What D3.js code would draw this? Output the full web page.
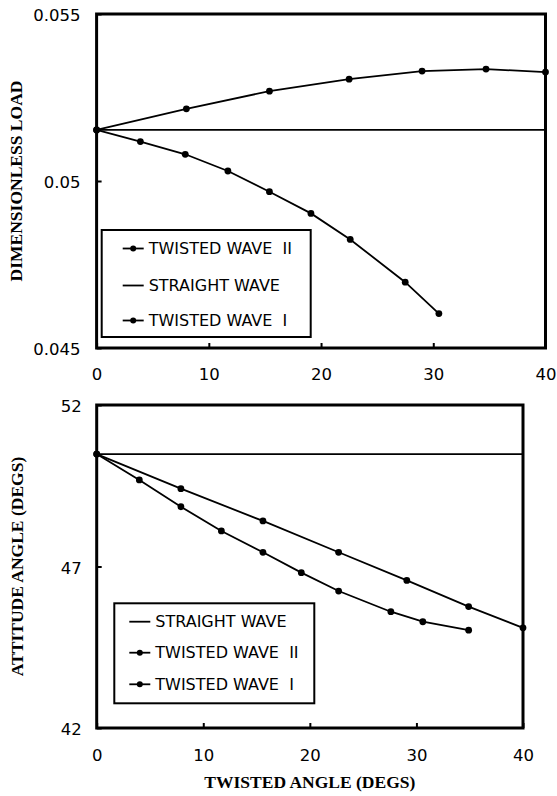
<!DOCTYPE html>
<html>
<head>
<meta charset="utf-8">
<script src="https://cdn.jsdelivr.net/npm/d3@7"></script>
<style>
  body { margin: 0; background: #fff; }
  svg { display: block; }
  .tick text { font-family: "DejaVu Sans", sans-serif; font-size: 16.5px; fill: #000; }
  .axis-title { font-family: "Liberation Serif", "Times New Roman", serif; font-weight: bold; font-size: 17.5px; }
  .legend text { font-family: "DejaVu Sans", sans-serif; font-size: 16px; white-space: pre; }
</style>
</head>
<body>
<div id="chart"></div>
<script>
// Daten
const X_TICKS = [0, 10, 20, 30, 40];

// Oberes Diagramm: dimensionslose Last
const LOAD_TICKS = [0.045, 0.05, 0.055];
const LOAD_STRAIGHT = 0.05153;
const LOAD_II_X = [0, 8, 15.4, 22.5, 29, 34.7, 40];
const LOAD_II_Y = [0.05153, 0.05216, 0.05269, 0.05305, 0.05329, 0.05335, 0.05326];
const LOAD_I_X = [0, 3.9, 7.9, 11.7, 15.4, 19.1, 22.6, 27.5, 30.5];
const LOAD_I_Y = [0.05153, 0.05118, 0.0508, 0.0503, 0.04968, 0.04903, 0.04825, 0.04697, 0.04603];
const LOAD_LEGEND = ["TWISTED WAVE  II", "STRAIGHT WAVE", "TWISTED WAVE  I"];

// Unteres Diagramm: Lagewinkel
const ATT_TICKS = [42, 47, 52];
const ATT_STRAIGHT = 50.48;
const ATT_II_X = [0, 7.9, 15.6, 22.7, 29.1, 34.9, 40];
const ATT_II_Y = [50.48, 49.41, 48.41, 47.44, 46.57, 45.76, 45.1];
const ATT_I_X = [0, 4, 7.9, 11.7, 15.6, 19.2, 22.7, 27.6, 30.6, 34.9];
const ATT_I_Y = [50.48, 49.68, 48.85, 48.1, 47.44, 46.81, 46.24, 45.6, 45.29, 45.03];
const ATT_LEGEND = ["STRAIGHT WAVE", "TWISTED WAVE  II", "TWISTED WAVE  I"];

const W = 557, H = 796;
const svg = d3.select("#chart").append("svg").attr("width", W).attr("height", H);

function panel(cfg) {
  const x = d3.scaleLinear().domain([0, 40]).range([cfg.left, cfg.right]);
  const y = d3.scaleLinear().domain(cfg.yDomain).range([cfg.bottom, cfg.top]);
  const g = svg.append("g");

  const xAxis = g.append("g")
    .attr("transform", `translate(0,${cfg.bottom})`)
    .call(d3.axisBottom(x).tickValues(X_TICKS).tickSizeInner(-5).tickSizeOuter(0).tickPadding(cfg.xPad));
  const yAxis = g.append("g")
    .attr("transform", `translate(${cfg.left},0)`)
    .call(d3.axisLeft(y).tickValues(cfg.yTicks).tickSizeInner(-5).tickSizeOuter(0).tickPadding(cfg.yPad)
      .tickFormat(cfg.fmt));
  [xAxis, yAxis].forEach(a => {
    a.select(".domain").remove();
    a.selectAll(".tick line").attr("stroke", "#000").attr("stroke-width", 2);
  });
  yAxis.selectAll("text").attr("dy", "0.42em");

  // Rahmen
  g.append("rect")
    .attr("x", cfg.left).attr("y", cfg.top)
    .attr("width", cfg.right - cfg.left).attr("height", cfg.bottom - cfg.top)
    .attr("fill", "none").attr("stroke", "#000").attr("stroke-width", 3);

  // Gerade Welle
  g.append("line")
    .attr("x1", x(0)).attr("x2", x(40))
    .attr("y1", y(cfg.straight)).attr("y2", y(cfg.straight))
    .attr("stroke", "#000").attr("stroke-width", 1.8);

  const line = d3.line().x(d => x(d[0])).y(d => y(d[1]));
  cfg.series.forEach(s => {
    const pts = s.xs.map((v, i) => [v, s.ys[i]]);
    g.append("path").attr("d", line(pts))
      .attr("fill", "none").attr("stroke", "#000").attr("stroke-width", 1.8);
    g.selectAll(null).data(pts).enter().append("circle")
      .attr("cx", d => x(d[0])).attr("cy", d => y(d[1])).attr("r", 3.4).attr("fill", "#000");
  });

  // Legende
  const lg = g.append("g").attr("class", "legend");
  lg.append("rect")
    .attr("x", cfg.legend.x).attr("y", cfg.legend.y)
    .attr("width", cfg.legend.w).attr("height", cfg.legend.h)
    .attr("fill", "#fff").attr("stroke", "#000").attr("stroke-width", 2);
  cfg.legend.labels.forEach((lab, i) => {
    const ry = cfg.legend.rows[i];
    const lx = cfg.legend.x + cfg.legend.sx;
    lg.append("line").attr("x1", lx).attr("x2", lx + 21).attr("y1", ry).attr("y2", ry)
      .attr("stroke", "#000").attr("stroke-width", 1.8);
    if (lab !== "STRAIGHT WAVE") {
      lg.append("circle").attr("cx", lx + 10.5).attr("cy", ry).attr("r", 3).attr("fill", "#000");
    }
    lg.append("text").attr("x", lx + 26).attr("y", ry).attr("dy", "0.36em").text(lab);
  });

  // Achsentitel
  g.append("text").attr("class", "axis-title")
    .attr("transform", `translate(${cfg.yTitleX},${(cfg.top + cfg.bottom) / 2}) rotate(-90)`)
    .attr("text-anchor", "middle").text(cfg.yTitle);
  if (cfg.xTitle) {
    g.append("text").attr("class", "axis-title")
      .attr("x", (cfg.left + cfg.right) / 2).attr("y", cfg.xTitleY)
      .attr("text-anchor", "middle").text(cfg.xTitle);
  }
}

panel({
  left: 96.6, right: 545.5, top: 14, bottom: 348,
  yDomain: [0.045, 0.055], yTicks: LOAD_TICKS, fmt: d => String(+d.toFixed(3)),
  xPad: 20, yPad: 16,
  straight: LOAD_STRAIGHT,
  series: [{ xs: LOAD_II_X, ys: LOAD_II_Y }, { xs: LOAD_I_X, ys: LOAD_I_Y }],
  legend: { x: 101.7, y: 230, w: 209, h: 107, sx: 21, rows: [248.5, 285.5, 320.5], labels: LOAD_LEGEND },
  yTitle: "DIMENSIONLESS LOAD", yTitleX: 22
});

panel({
  left: 96.7, right: 523, top: 405, bottom: 728,
  yDomain: [42, 52], yTicks: ATT_TICKS, fmt: d => String(d),
  xPad: 21, yPad: 15,
  straight: ATT_STRAIGHT,
  series: [{ xs: ATT_II_X, ys: ATT_II_Y }, { xs: ATT_I_X, ys: ATT_I_Y }],
  legend: { x: 114.3, y: 603.3, w: 200, h: 100, sx: 15, rows: [621.7, 652.7, 684.3], labels: ATT_LEGEND },
  yTitle: "ATTITUDE ANGLE (DEGS)", yTitleX: 23,
  xTitle: "TWISTED ANGLE (DEGS)", xTitleY: 788
});
</script>
</body>
</html>
